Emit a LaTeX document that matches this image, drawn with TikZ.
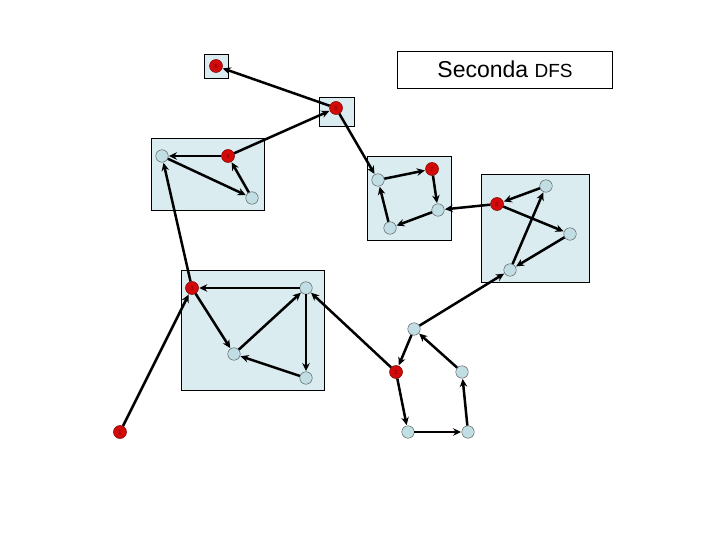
\documentclass[tikz,border=0pt]{standalone}
\usepackage{fontspec}
\setmainfont{Liberation Sans}
\usetikzlibrary{arrows.meta}
\definecolor{boxfill}{RGB}{218,236,240}
\definecolor{nodefill}{RGB}{192,222,228}
\definecolor{rootred}{RGB}{210,10,10}
\definecolor{rootedge}{RGB}{130,0,0}
\tikzset{
  x=1pt, y=-1pt,
  sccbox/.style={draw=black, line width=0.8pt, fill=boxfill},
  vtx/.style={circle, draw=black!70, line width=0.4pt, fill=nodefill, minimum size=12.5pt, inner sep=0pt},
  root/.style={circle, draw=rootedge, line width=0.5pt, fill=rootred, minimum size=13pt, inner sep=0pt, text=rootedge, font=\fontsize{6}{6}\selectfont},
  arc/.style={line width=2.5pt, -{Stealth[length=8pt,width=7.5pt]}, shorten >=0.5pt},
  titlebox/.style={draw=black, line width=0.8pt, fill=white, minimum width=215pt, minimum height=37pt, inner sep=0pt}
}
\begin{document}
\begin{tikzpicture}
\useasboundingbox (0,0) rectangle (720,540);
% SCC boxes
\draw[sccbox] (204,54) rectangle (228,78);
\draw[sccbox] (319,97) rectangle (354,126);
\draw[sccbox] (151,138) rectangle (264,210);
\draw[sccbox] (367,156) rectangle (451,240);
\draw[sccbox] (481,174) rectangle (589,282);
\draw[sccbox] (181,270) rectangle (324,390);
% title
\node[titlebox] (title) at (505,69.5) {\fontsize{23}{27}\selectfont Seconda {\fontsize{19}{22}\selectfont DFS}};
% vertices
\node[root] (r8) at (216,66) {8};
\node[root] (r5) at (336,108) {5};
\node[root] (r4) at (228,156) {4};
\node[vtx]  (a)  at (162,156) {};
\node[vtx]  (b)  at (252,198) {};
\node[vtx]  (c)  at (378,180) {};
\node[root] (r7) at (432,169) {7};
\node[vtx]  (d)  at (438,210) {};
\node[vtx]  (e)  at (390,228) {};
\node[root] (r6) at (497,204) {6};
\node[vtx]  (f)  at (546,186) {};
\node[vtx]  (g)  at (570,234) {};
\node[vtx]  (h)  at (510,270) {};
\node[root] (r3) at (192,288) {3};
\node[vtx]  (j)  at (306,288) {};
\node[vtx]  (k)  at (234,354) {};
\node[vtx]  (l)  at (306,378) {};
\node[root] (r1) at (120,432) {1};
\node[vtx]  (i)  at (414,329) {};
\node[root] (r2) at (396,372) {2};
\node[vtx]  (m)  at (462,372) {};
\node[vtx]  (n)  at (408,432) {};
\node[vtx]  (o)  at (468,432) {};
% arcs
\draw[arc] (r5) -- (r8);
\draw[arc] (r4) -- (r5);
\draw[arc] (r4) -- (a);
\draw[arc] (a) -- (b);
\draw[arc] (b) -- (r4);
\draw[arc] (r3) -- (a);
\draw[arc] (r5) -- (c);
\draw[arc] (c) -- (r7);
\draw[arc] (r7) -- (d);
\draw[arc] (d) -- (e);
\draw[arc] (e) -- (c);
\draw[arc] (r6) -- (d);
\draw[arc] (f) -- (r6);
\draw[arc] (r6) -- (g);
\draw[arc] (g) -- (h);
\draw[arc] (h) -- (f);
\draw[arc] (i) -- (h);
\draw[arc] (j) -- (r3);
\draw[arc] (r3) -- (k);
\draw[arc] (k) -- (j);
\draw[arc] (j) -- (l);
\draw[arc] (l) -- (k);
\draw[arc] (r1) -- (r3);
\draw[arc] (r2) -- (j);
\draw[arc] (i) -- (r2);
\draw[arc] (r2) -- (n);
\draw[arc] (n) -- (o);
\draw[arc] (o) -- (m);
\draw[arc] (m) -- (i);
\end{tikzpicture}
\end{document}
